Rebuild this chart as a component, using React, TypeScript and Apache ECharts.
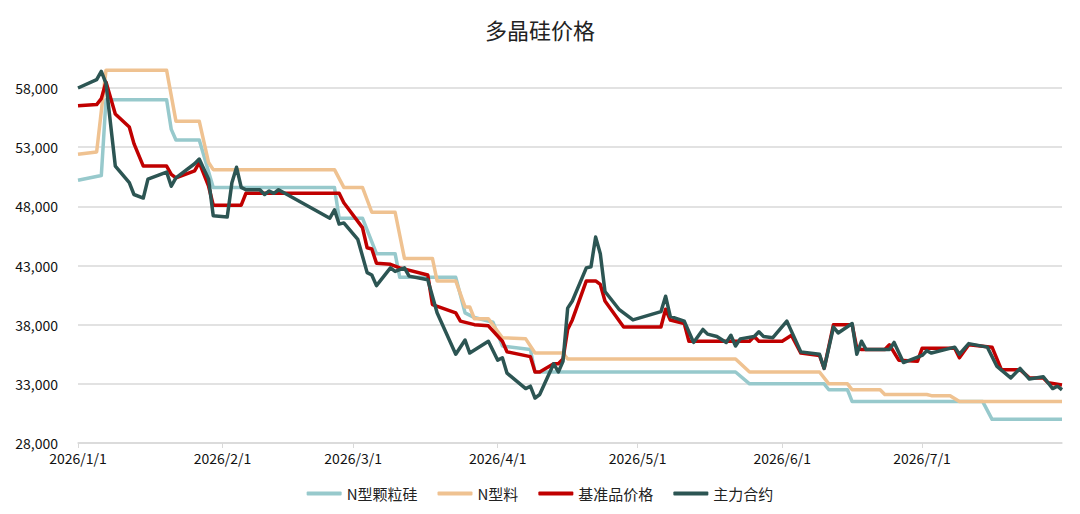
import React, { useEffect, useRef } from "react";
import * as echarts from "echarts";

const TITLE = "多晶硅价格";
const SERIES_NAMES = ["N型颗粒硅", "N型料", "基准品价格", "主力合约"];
const Y_TICKS_MIN = 28000;
const Y_TICKS_MAX = 58000;
const Y_INTERVAL = 5000;
const X_START = "2026-01-01";
const X_END = "2026-07-31";
const MONTH_TICKS = ["2026-01-01", "2026-02-01", "2026-03-01", "2026-04-01", "2026-05-01", "2026-06-01", "2026-07-01"];

const granular: [string, number][] = [
  ["2026-01-01", 50200], ["2026-01-06", 50600], ["2026-01-07", 57000], ["2026-01-20", 57000],
  ["2026-01-21", 54500], ["2026-01-22", 53600], ["2026-01-27", 53600], ["2026-01-30", 49600],
  ["2026-02-25", 49600], ["2026-02-26", 47000], ["2026-03-03", 47000], ["2026-03-06", 44000],
  ["2026-03-10", 44000], ["2026-03-11", 42000], ["2026-03-23", 42000], ["2026-03-25", 39000],
  ["2026-03-27", 38600], ["2026-03-31", 38200], ["2026-04-02", 36200], ["2026-04-08", 35900],
  ["2026-04-09", 34000], ["2026-05-22", 34000], ["2026-05-25", 33000], ["2026-06-10", 33000],
  ["2026-06-11", 32500], ["2026-06-15", 32500], ["2026-06-16", 31500], ["2026-07-14", 31500],
  ["2026-07-16", 30000], ["2026-07-31", 30000],
];

const nType: [string, number][] = [
  ["2026-01-01", 52400], ["2026-01-05", 52600], ["2026-01-07", 59500], ["2026-01-20", 59500],
  ["2026-01-22", 55200], ["2026-01-27", 55200], ["2026-01-29", 51700], ["2026-01-30", 51100],
  ["2026-02-25", 51100], ["2026-02-27", 49600], ["2026-03-03", 49600], ["2026-03-05", 47500],
  ["2026-03-10", 47500], ["2026-03-12", 43600], ["2026-03-18", 43600], ["2026-03-19", 41700],
  ["2026-03-23", 41700], ["2026-03-25", 39500], ["2026-03-26", 39500], ["2026-03-27", 38500],
  ["2026-03-30", 38500], ["2026-04-02", 36900], ["2026-04-07", 36800], ["2026-04-09", 35600],
  ["2026-04-15", 35600], ["2026-04-16", 35100], ["2026-05-22", 35100], ["2026-05-25", 34000],
  ["2026-06-09", 34000], ["2026-06-11", 33000], ["2026-06-15", 33000], ["2026-06-16", 32500],
  ["2026-06-22", 32500], ["2026-06-23", 32100], ["2026-07-02", 32100], ["2026-07-03", 32000],
  ["2026-07-07", 32000], ["2026-07-09", 31500], ["2026-07-31", 31500],
];

const benchmark: [string, number][] = [
  ["2026-01-01", 56500], ["2026-01-05", 56600], ["2026-01-06", 57100], ["2026-01-07", 58500],
  ["2026-01-09", 55800], ["2026-01-12", 54700], ["2026-01-13", 53300], ["2026-01-15", 51400],
  ["2026-01-20", 51400], ["2026-01-21", 50700], ["2026-01-22", 50400], ["2026-01-26", 51000],
  ["2026-01-27", 51700], ["2026-01-29", 49700], ["2026-01-30", 48100], ["2026-02-05", 48100],
  ["2026-02-06", 49100], ["2026-02-26", 49100], ["2026-02-27", 48300], ["2026-03-03", 46200],
  ["2026-03-04", 44500], ["2026-03-05", 44400], ["2026-03-06", 43200], ["2026-03-09", 43100],
  ["2026-03-11", 42800], ["2026-03-17", 42200], ["2026-03-18", 39700], ["2026-03-23", 39000],
  ["2026-03-24", 38300], ["2026-03-27", 38000], ["2026-03-30", 37900], ["2026-04-02", 36600],
  ["2026-04-03", 35700], ["2026-04-08", 35300], ["2026-04-09", 34000], ["2026-04-10", 34000],
  ["2026-04-13", 34700], ["2026-04-14", 34700], ["2026-04-15", 35100], ["2026-04-16", 37600],
  ["2026-04-17", 38400], ["2026-04-20", 41700], ["2026-04-22", 41700], ["2026-04-23", 41400],
  ["2026-04-24", 40000], ["2026-04-28", 37800], ["2026-05-06", 37800], ["2026-05-07", 39300],
  ["2026-05-08", 38400], ["2026-05-11", 38100], ["2026-05-12", 36600], ["2026-05-25", 36600],
  ["2026-05-26", 37000], ["2026-05-27", 36600], ["2026-06-01", 36600], ["2026-06-03", 37100],
  ["2026-06-05", 35600], ["2026-06-09", 35400], ["2026-06-10", 34300], ["2026-06-12", 38000],
  ["2026-06-16", 38000], ["2026-06-17", 36000], ["2026-06-18", 35900], ["2026-06-23", 35900],
  ["2026-06-24", 36300], ["2026-06-26", 35000], ["2026-06-30", 34900], ["2026-07-01", 36000],
  ["2026-07-08", 36000], ["2026-07-09", 35200], ["2026-07-11", 36300], ["2026-07-16", 36100],
  ["2026-07-18", 34200], ["2026-07-22", 34200], ["2026-07-24", 33500], ["2026-07-27", 33500],
  ["2026-07-28", 33100], ["2026-07-31", 32900],
];

const mainContract: [string, number][] = [
  ["2026-01-01", 58000], ["2026-01-05", 58700], ["2026-01-06", 59400], ["2026-01-07", 58400],
  ["2026-01-09", 51400], ["2026-01-12", 50000], ["2026-01-13", 49000], ["2026-01-15", 48700],
  ["2026-01-16", 50300], ["2026-01-20", 50900], ["2026-01-21", 49700], ["2026-01-22", 50400],
  ["2026-01-26", 51600], ["2026-01-27", 52000], ["2026-01-29", 50300], ["2026-01-30", 47200],
  ["2026-02-02", 47100], ["2026-02-03", 50000], ["2026-02-04", 51300], ["2026-02-05", 49600],
  ["2026-02-06", 49400], ["2026-02-09", 49400], ["2026-02-10", 49000], ["2026-02-11", 49300],
  ["2026-02-12", 49100], ["2026-02-13", 49400], ["2026-02-24", 47000], ["2026-02-25", 47700],
  ["2026-02-26", 46500], ["2026-02-27", 46600], ["2026-03-02", 45200], ["2026-03-04", 42400],
  ["2026-03-05", 42200], ["2026-03-06", 41300], ["2026-03-09", 42800], ["2026-03-10", 42500],
  ["2026-03-12", 42800], ["2026-03-13", 42100], ["2026-03-17", 41800], ["2026-03-19", 39000],
  ["2026-03-23", 35500], ["2026-03-25", 36700], ["2026-03-26", 35600], ["2026-03-30", 36600],
  ["2026-04-01", 35000], ["2026-04-02", 35200], ["2026-04-03", 33900], ["2026-04-07", 32600],
  ["2026-04-08", 32800], ["2026-04-09", 31800], ["2026-04-10", 32100], ["2026-04-13", 34700],
  ["2026-04-14", 34000], ["2026-04-15", 34900], ["2026-04-16", 39400], ["2026-04-17", 40000],
  ["2026-04-20", 42800], ["2026-04-21", 42900], ["2026-04-22", 45400], ["2026-04-23", 44000],
  ["2026-04-24", 40800], ["2026-04-27", 39300], ["2026-04-30", 38400], ["2026-05-06", 39100],
  ["2026-05-07", 40400], ["2026-05-08", 38700], ["2026-05-11", 38300], ["2026-05-13", 36500],
  ["2026-05-15", 37600], ["2026-05-16", 37200], ["2026-05-18", 37000], ["2026-05-20", 36500],
  ["2026-05-21", 37100], ["2026-05-22", 36200], ["2026-05-23", 36800], ["2026-05-26", 37000],
  ["2026-05-27", 37400], ["2026-05-28", 37000], ["2026-05-30", 36900], ["2026-06-02", 38300],
  ["2026-06-05", 35700], ["2026-06-09", 35500], ["2026-06-10", 34300], ["2026-06-12", 37800],
  ["2026-06-13", 37300], ["2026-06-16", 38100], ["2026-06-17", 35500], ["2026-06-18", 36600],
  ["2026-06-19", 35900], ["2026-06-24", 35900], ["2026-06-25", 36500], ["2026-06-27", 34800],
  ["2026-07-01", 35400], ["2026-07-02", 35800], ["2026-07-03", 35600], ["2026-07-08", 36100],
  ["2026-07-09", 35500], ["2026-07-11", 36400], ["2026-07-15", 36100], ["2026-07-17", 34500],
  ["2026-07-20", 33500], ["2026-07-22", 34300], ["2026-07-24", 33400], ["2026-07-27", 33600],
  ["2026-07-29", 32600], ["2026-07-30", 32800], ["2026-07-31", 32500],
];

const COLORS = ["#97c9cc", "#efc291", "#c00000", "#2c5553"];
const SERIES_DATA = [granular, nType, benchmark, mainContract];

function toTime(s: string): number {
  const [y, m, d] = s.split("-").map(Number);
  return Date.UTC(y, m - 1, d);
}

function fmtDate(v: number): string {
  const d = new Date(v);
  return `${d.getUTCFullYear()}/${d.getUTCMonth() + 1}/${d.getUTCDate()}`;
}

const FONT = "'Noto Sans CJK SC', 'Noto Sans', sans-serif";

export default function App() {
  const ref = useRef<HTMLDivElement>(null);
  useEffect(() => {
    if (!ref.current) return;
    const chart = echarts.init(ref.current, null, { renderer: "svg" });
    const monthVals = MONTH_TICKS.map(toTime);
    chart.setOption({
      animation: false,
      backgroundColor: "#ffffff",
      title: {
        text: TITLE,
        left: "center",
        top: 13,
        textStyle: { fontSize: 22, fontWeight: "normal", color: "#222", fontFamily: FONT },
      },
      legend: {
        data: SERIES_NAMES,
        left: "center",
        top: 481,
        icon: "roundRect",
        itemWidth: 35,
        itemHeight: 4,
        itemGap: 20,
        textStyle: { fontSize: 15, color: "#222", fontFamily: FONT },
      },
      grid: { left: 78, right: 18, top: 88, bottom: 71 },
      xAxis: {
        type: "value",
        min: toTime(X_START),
        max: toTime(X_END),
        axisLine: { show: true, lineStyle: { color: "#d9d9d9", width: 1.5 } },
        axisTick: {
          show: true,
          length: 5,
          lineStyle: { color: "#d9d9d9" },
          customValues: monthVals,
        },
        axisLabel: {
          customValues: monthVals,
          margin: 8,
          fontSize: 14,
          color: "#111",
          fontFamily: FONT,
          formatter: (v: number) => fmtDate(v),
        },
        splitLine: { show: false },
      },
      yAxis: {
        type: "value",
        min: Y_TICKS_MIN,
        max: Y_TICKS_MAX,
        interval: Y_INTERVAL,
        axisLine: { show: false },
        axisTick: { show: false },
        axisLabel: {
          margin: 20,
          fontSize: 14,
          color: "#111",
          fontFamily: FONT,
          formatter: (v: number) => v.toLocaleString("en-US"),
        },
        splitLine: { show: true, lineStyle: { color: "#d9d9d9", width: 1.5 } },
      },
      series: SERIES_NAMES.map((name, i) => ({
        name,
        type: "line",
        data: SERIES_DATA[i].map(([d, v]) => [toTime(d), v]),
        symbol: "none",
        clip: false,
        color: COLORS[i],
        lineStyle: { width: 3.5, color: COLORS[i], join: "round" },
        z: 2 + i,
      })),
    });
    return () => chart.dispose();
  }, []);
  return (
    <div
      ref={ref}
      style={{ position: "fixed", left: 0, top: 0, width: 1080, height: 514, background: "#fff" }}
    />
  );
}
